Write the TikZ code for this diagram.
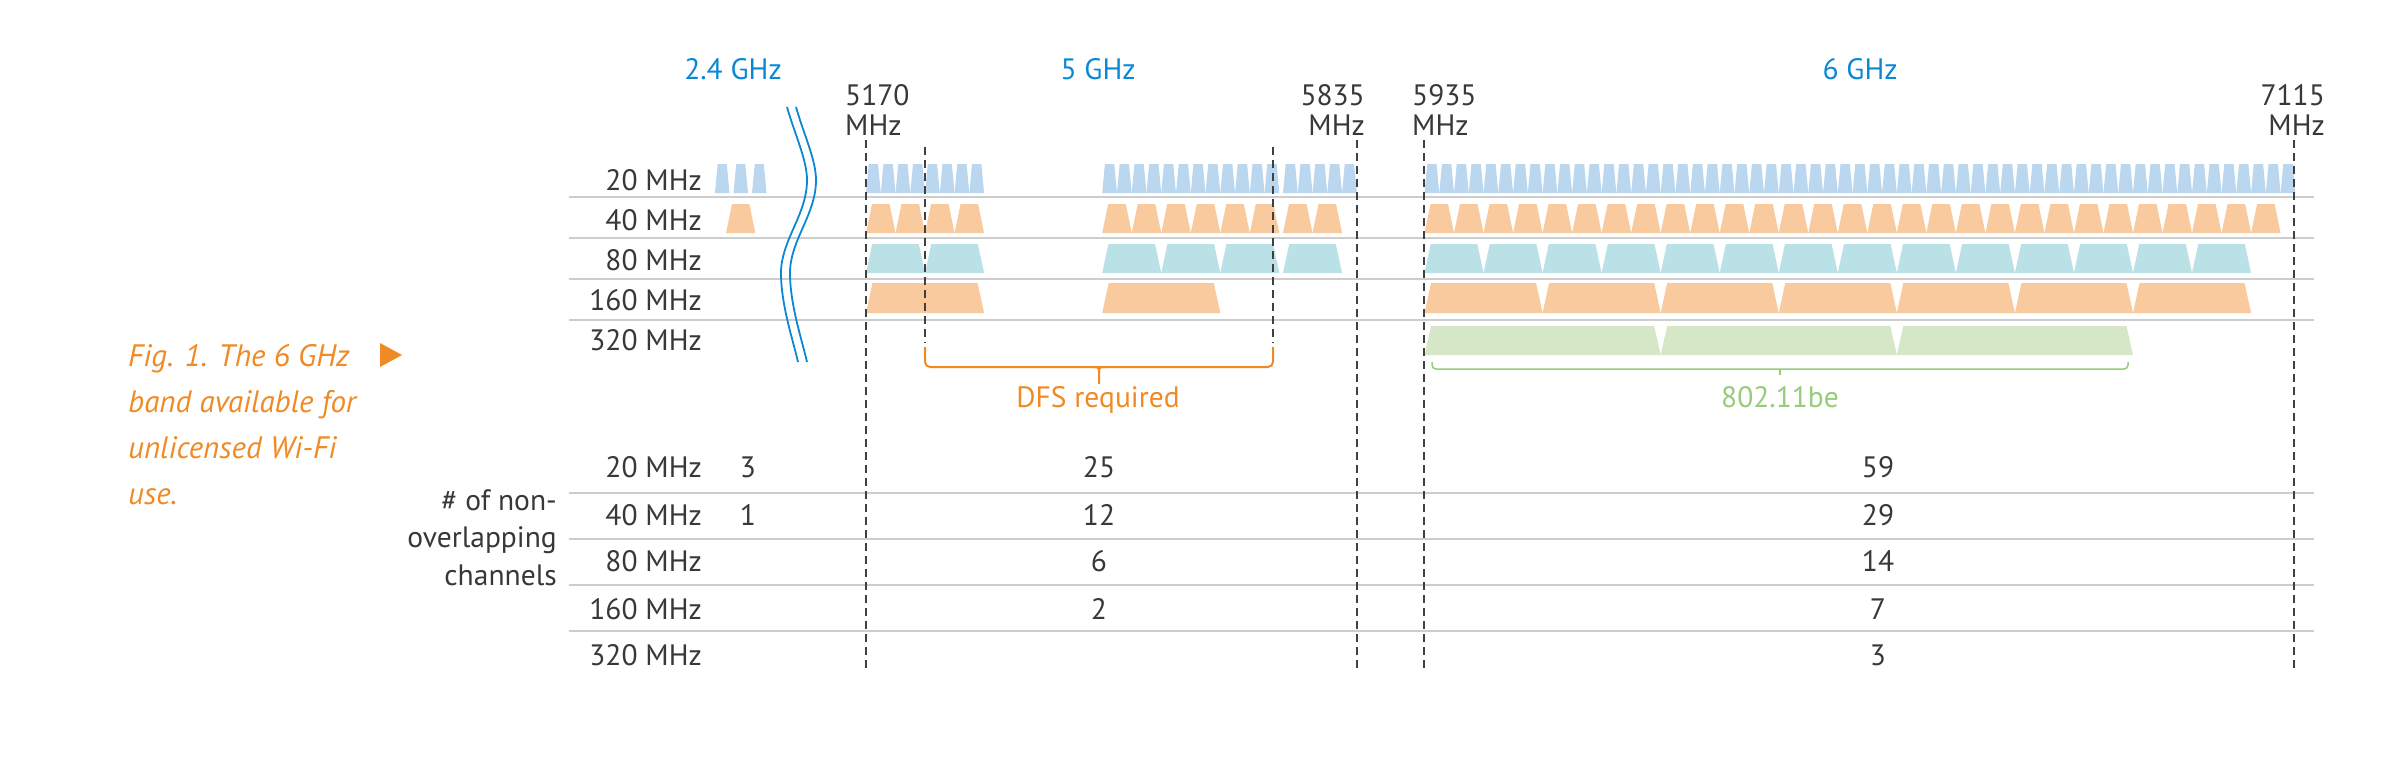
\documentclass[tikz,border=0pt]{standalone}
\usepackage{fontspec}
\setmainfont{PT Sans}
\usetikzlibrary{calc}
\definecolor{txtgray}{HTML}{383838}
\definecolor{bandblue}{HTML}{0A88D4}
\definecolor{capor}{HTML}{F08A24}
\definecolor{grn}{HTML}{96CC7A}
\definecolor{cA}{HTML}{BBD7F0}
\definecolor{cB}{HTML}{F8CA9E}
\definecolor{cC}{HTML}{BAE1E6}
\definecolor{cD}{HTML}{D5E7C6}
\definecolor{gridc}{HTML}{CDCDCD}
\definecolor{dashc}{HTML}{404040}
\newcommand{\wifiTrap}[6]{\fill[#6] (#1,#4) -- ({#1+#5},#3) -- ({#1+#2-#5},#3) -- ({#1+#2},#4) -- cycle;}
\newcommand{\wifiRow}[7]{%
  \foreach \k in {1,...,#2}{%
    \pgfmathsetmacro\wxx{#1+(\k-1)*#3}%
    \wifiTrap{\wxx}{#3}{#4}{#5}{#6}{#7}%
  }}
\begin{document}
\begin{tikzpicture}[x=1pt,y=-1pt,
  lbl/.style={font=\fontsize{29.5}{34}\selectfont, text=txtgray, inner sep=0pt},
  band/.style={font=\fontsize{29.5}{34}\selectfont, text=bandblue, inner sep=0pt},
  captxt/.style={font=\fontsize{31}{36}\selectfont\itshape, text=capor, inner sep=0pt, anchor=base west},
  gridline/.style={draw=gridc, line width=1.6pt},
  dashline/.style={draw=dashc, line width=1.6pt, dash pattern=on 8pt off 5pt},
  orline/.style={draw=capor, line width=2pt},
  grline/.style={draw=grn, line width=1.5pt},
  waveline/.style={draw=bandblue, line width=1.8pt}]
\useasboundingbox (0,0) rectangle (2406,774);

% ---------- channel shapes ----------
% 2.4 GHz
\wifiTrap{715}{14.5}{164}{193}{2.7}{cA}
\wifiTrap{733.5}{14.5}{164}{193}{2.7}{cA}
\wifiTrap{752}{14.5}{164}{193}{2.7}{cA}
\wifiTrap{726}{29.3}{204}{233}{6}{cB}
% 20 MHz
\wifiRow{866}{8}{14.76}{164}{193}{2.7}{cA}
\wifiRow{1102.2}{12}{14.76}{164}{193}{2.7}{cA}
\wifiRow{1283}{5}{14.76}{164}{193}{2.7}{cA}
\wifiRow{1424.5}{59}{14.76}{164}{193}{2.7}{cA}
% 40 MHz
\wifiRow{866}{4}{29.52}{204}{233}{6}{cB}
\wifiRow{1102.2}{6}{29.52}{204}{233}{6}{cB}
\wifiRow{1283}{2}{29.52}{204}{233}{6}{cB}
\wifiRow{1424.5}{29}{29.52}{204}{233}{6}{cB}
% 80 MHz
\wifiRow{866}{2}{59.04}{244}{273}{6.2}{cC}
\wifiRow{1102.2}{3}{59.04}{244}{273}{6.2}{cC}
\wifiRow{1283}{1}{59.04}{244}{273}{6.2}{cC}
\wifiRow{1424.5}{14}{59.04}{244}{273}{6.2}{cC}
% 160 MHz
\wifiRow{866}{1}{118.08}{283}{313}{6.5}{cB}
\wifiRow{1102.2}{1}{118.08}{283}{313}{6.5}{cB}
\wifiRow{1424.5}{7}{118.08}{283}{313}{6.5}{cB}
% 320 MHz
\wifiRow{1424.5}{3}{236.16}{326}{355}{6.5}{cD}

% ---------- grid lines ----------
\foreach \yy in {197,238,279,320,493,539,585,631}{
  \draw[gridline] (569,\yy) -- (2314,\yy);
}

% ---------- dashed frequency markers ----------
\foreach \xx in {866,1357,1424,2294}{
  \draw[dashline] (\xx,140) -- (\xx,670);
}
\draw[dashline] (925,147) -- (925,343);
\draw[dashline] (1273,147) -- (1273,343);

% ---------- break marks ----------
\draw[waveline] (787,107) .. controls (795,135) and (807,160) .. (807,180)
  .. controls (807,215) and (781,240) .. (781,273)
  .. controls (781,305) and (793,340) .. (798,362);
\draw[waveline] (796,107) .. controls (804,135) and (816,160) .. (816,180)
  .. controls (816,215) and (790,240) .. (790,273)
  .. controls (790,305) and (802,340) .. (807,362);

% ---------- braces ----------
\draw[orline, rounded corners=5pt] (925,347) -- (925,367) -- (1273,367) -- (1273,347);
\draw[orline] (1092,367) .. controls (1099,367) .. (1099,374) -- (1099,384);
\draw[orline] (1106,367) .. controls (1099,367) .. (1099,374);
\draw[grline, rounded corners=4pt] (1432,362) -- (1432,369) -- (2128,369) -- (2128,362);
\draw[grline] (1780,369) -- (1780,374.5);

% ---------- band labels ----------
\node[band, anchor=base] (b24) at (733,79) {2.4 GHz};
\node[band, anchor=base] (b5) at (1098,79) {5 GHz};
\node[band, anchor=base] (b6) at (1860,79) {6 GHz};

\node[lbl, anchor=base west] (f1a) at (845,105.7) {5170};
\node[lbl, anchor=base west] (f1b) at (845,135) {MHz};
\node[lbl, anchor=base east] (f2a) at (1365,105.7) {5835};
\node[lbl, anchor=base east] (f2b) at (1365,135) {MHz};
\node[lbl, anchor=base west] (f3a) at (1412,105.7) {5935};
\node[lbl, anchor=base west] (f3b) at (1412,135) {MHz};
\node[lbl, anchor=base east] (f4a) at (2325,105.7) {7115};
\node[lbl, anchor=base east] (f4b) at (2325,135) {MHz};

% ---------- row labels (top) ----------
\node[lbl, anchor=base east] (r1) at (702,190) {20 MHz};
\node[lbl, anchor=base east] (r2) at (702,230) {40 MHz};
\node[lbl, anchor=base east] (r3) at (702,270) {80 MHz};
\node[lbl, anchor=base east] (r4) at (702,310) {160 MHz};
\node[lbl, anchor=base east] (r5) at (702,350) {320 MHz};

% ---------- brace labels ----------
\node[lbl, text=capor, anchor=base] (dfs) at (1098,407) {DFS required};
\node[lbl, text=grn, anchor=base] (be) at (1780,407) {802.11be};

% ---------- caption ----------
\node[captxt] (c1) at (128,366.7) {Fig. 1. The 6 GHz};
\node[captxt] (c2) at (128,412.5) {band available for};
\node[captxt] (c3) at (128,458.3) {unlicensed Wi-Fi};
\node[captxt] (c4) at (128,504) {use.};
\fill[capor] (380,343) -- (402,355) -- (380,367) -- cycle;

% ---------- table ----------
\node[lbl, anchor=base east] (h1) at (557,510) {\# of non-};
\node[lbl, anchor=base east] (h2) at (557,547.5) {overlapping};
\node[lbl, anchor=base east] (h3) at (557,585) {channels};

\node[lbl, anchor=base east] (t1) at (702,477.3) {20 MHz};
\node[lbl, anchor=base east] (t2) at (702,525.7) {40 MHz};
\node[lbl, anchor=base east] (t3) at (702,571.7) {80 MHz};
\node[lbl, anchor=base east] (t4) at (702,619.3) {160 MHz};
\node[lbl, anchor=base east] (t5) at (702,665.7) {320 MHz};

\node[lbl, anchor=base] (n11) at (748,477.3) {3};
\node[lbl, anchor=base] (n21) at (748,525.7) {1};
\node[lbl, anchor=base] (n12) at (1099,477.3) {25};
\node[lbl, anchor=base] (n22) at (1099,525.7) {12};
\node[lbl, anchor=base] (n32) at (1099,571.7) {6};
\node[lbl, anchor=base] (n42) at (1099,619.3) {2};
\node[lbl, anchor=base] (n13) at (1878,477.3) {59};
\node[lbl, anchor=base] (n23) at (1878,525.7) {29};
\node[lbl, anchor=base] (n33) at (1878,571.7) {14};
\node[lbl, anchor=base] (n43) at (1878,619.3) {7};
\node[lbl, anchor=base] (n53) at (1878,665.7) {3};
\end{tikzpicture}
\end{document}
